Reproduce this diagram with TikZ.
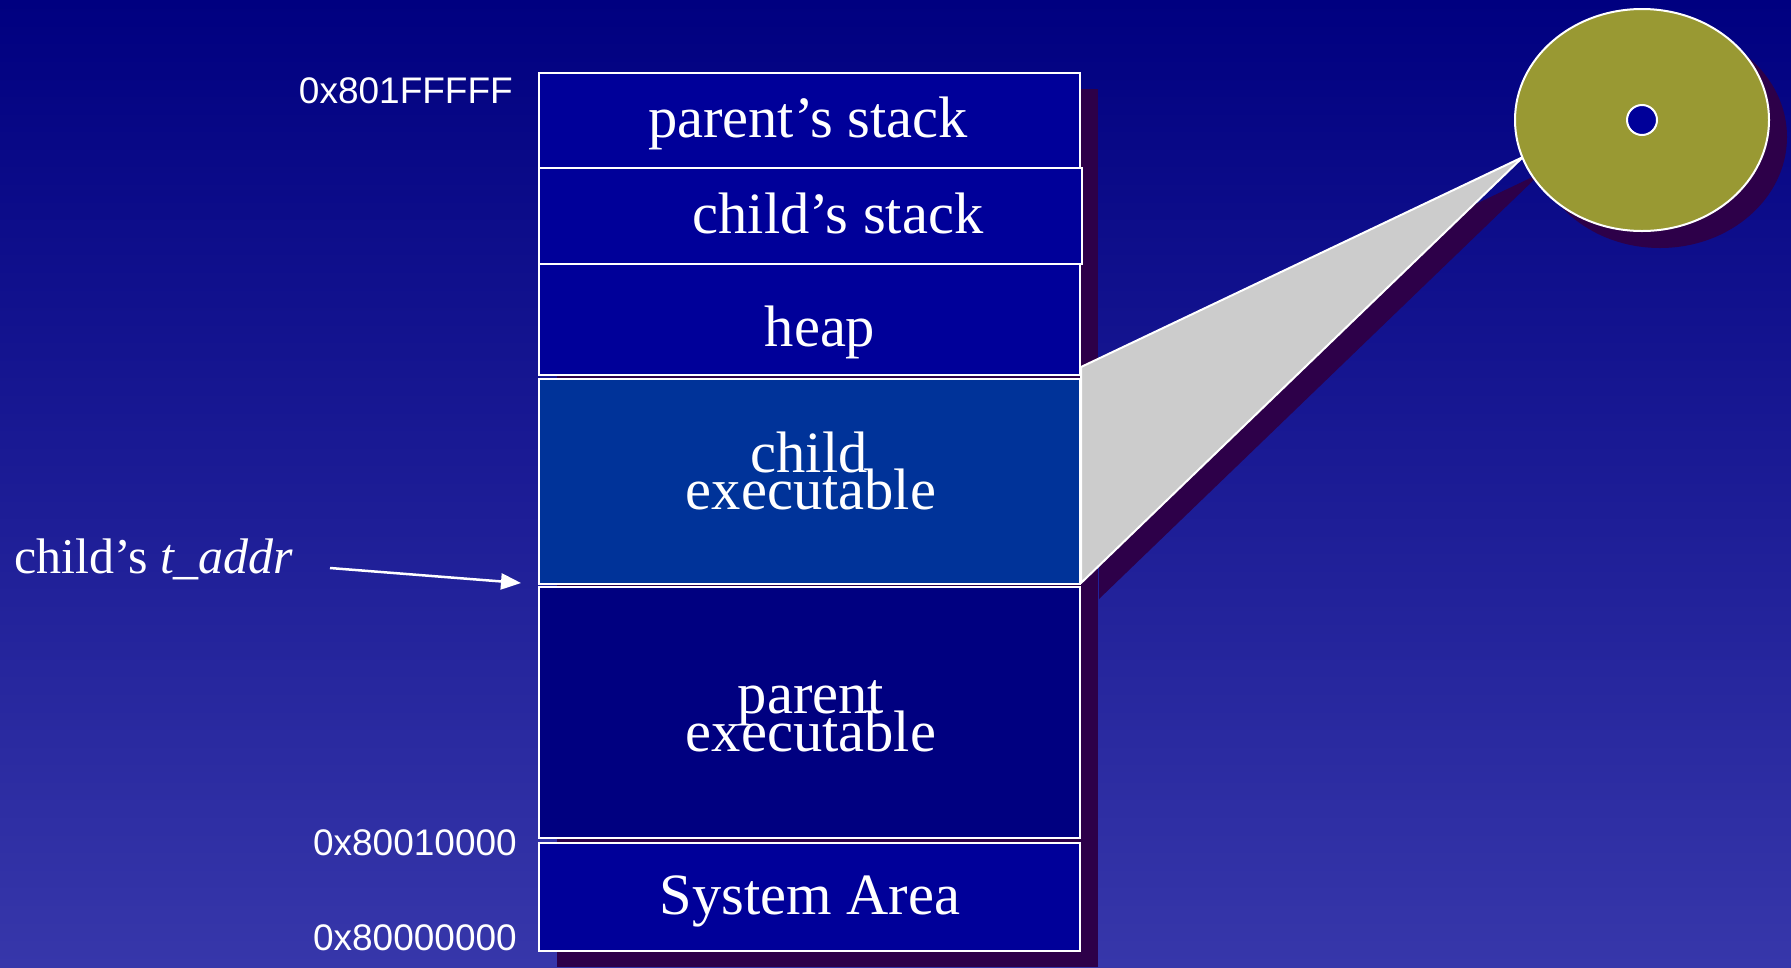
\documentclass[tikz,border=0pt]{standalone}
\usepackage{fontspec}
\setmainfont{Liberation Serif}
\newfontfamily\addrfont{Liberation Sans}
\usetikzlibrary{arrows.meta,shapes.geometric}
\definecolor{bgtop}{RGB}{0,0,128}
\definecolor{bgbot}{RGB}{55,55,170}
\definecolor{segblue}{RGB}{0,0,153}
\definecolor{childblue}{RGB}{0,51,153}
\definecolor{parentblue}{RGB}{0,0,128}
\definecolor{shadowpurple}{RGB}{45,0,73}
\definecolor{diskolive}{RGB}{153,153,51}
\definecolor{beamgrey}{RGB}{204,204,204}
\begin{document}
\begin{tikzpicture}[x=1pt,y=-1pt,
  seg/.style={draw=white, line width=2.5pt},
  segtext/.style={text=white, font=\fontsize{58.5}{37.5}\selectfont, anchor=base, inner sep=0pt},
  addr/.style={text=white, font=\addrfont\fontsize{37}{40}\selectfont, anchor=base east, inner sep=0pt},
  shadowfill/.style={fill=shadowpurple, draw=none},
]
\useasboundingbox (0,0) rectangle (1791,967);
% background
\shade[top color=bgtop, bottom color=bgbot] (0,0) rectangle (1791,967);

% drop shadows
\fill[shadowfill] (557,89) rectangle (1098,967);
\fill[shadowfill] (1099,383) -- (1541,173) -- (1099,599) -- cycle;
\fill[shadowfill] (1660,137) ellipse [x radius=127, y radius=111];

% memory segments
\draw[seg, fill=segblue]    (539,73)  rectangle (1080,168);
\draw[seg, fill=segblue]    (539,168) rectangle (1082,264);
\draw[seg, fill=segblue]    (539,264) rectangle (1080,375);
\draw[seg, fill=childblue]  (539,379) rectangle (1080,584);
\draw[seg, fill=parentblue] (539,587) rectangle (1080,838);
\draw[seg, fill=segblue]    (539,843) rectangle (1080,951);

\node[segtext] (pstack)  at (808,137) {parent’s stack};
\node[segtext] (cstack)  at (838,233) {child’s stack};
\node[segtext] (heap)    at (820,346) {heap};
\node[segtext] (cexecA)  at (809,472) {child};
\node[segtext] (cexecB)  at (811,509) {executable};
\node[segtext] (pexecA)  at (811,713) {parent};
\node[segtext] (pexecB)  at (811,751) {executable};
\node[segtext] (sysarea) at (810,914) {System Area};

% address labels
\node[addr] (atop) at (513,103) {0x801FFFFF};
\node[addr] (amid) at (517,855) {0x80010000};
\node[addr] (abot) at (517,950) {0x80000000};

% t_addr pointer
\node[text=white, font=\fontsize{50}{55}\selectfont, anchor=base west, inner sep=0pt] (taddr) at (14,573) {child’s \textit{t\_addr}};
\coordinate (arrowtail) at (330,568);
\coordinate (arrowtip) at (521,583);
\draw[white, line width=2.5pt, -{Triangle[length=20pt, width=16pt]}] (arrowtail) -- (arrowtip);

% magnifying beam and disk
\draw[fill=beamgrey, draw=white, line width=2pt, line join=round] (1081,367) -- (1523,157) -- (1081,583) -- cycle;
\node[ellipse, fill=diskolive, draw=white, line width=2pt, minimum width=254pt, minimum height=222pt, inner sep=0pt] (disk) at (1642,120) {};
\node[circle, fill=segblue, draw=white, line width=2pt, minimum size=30pt, inner sep=0pt] (hole) at (disk.center) {};
\end{tikzpicture}
\end{document}
